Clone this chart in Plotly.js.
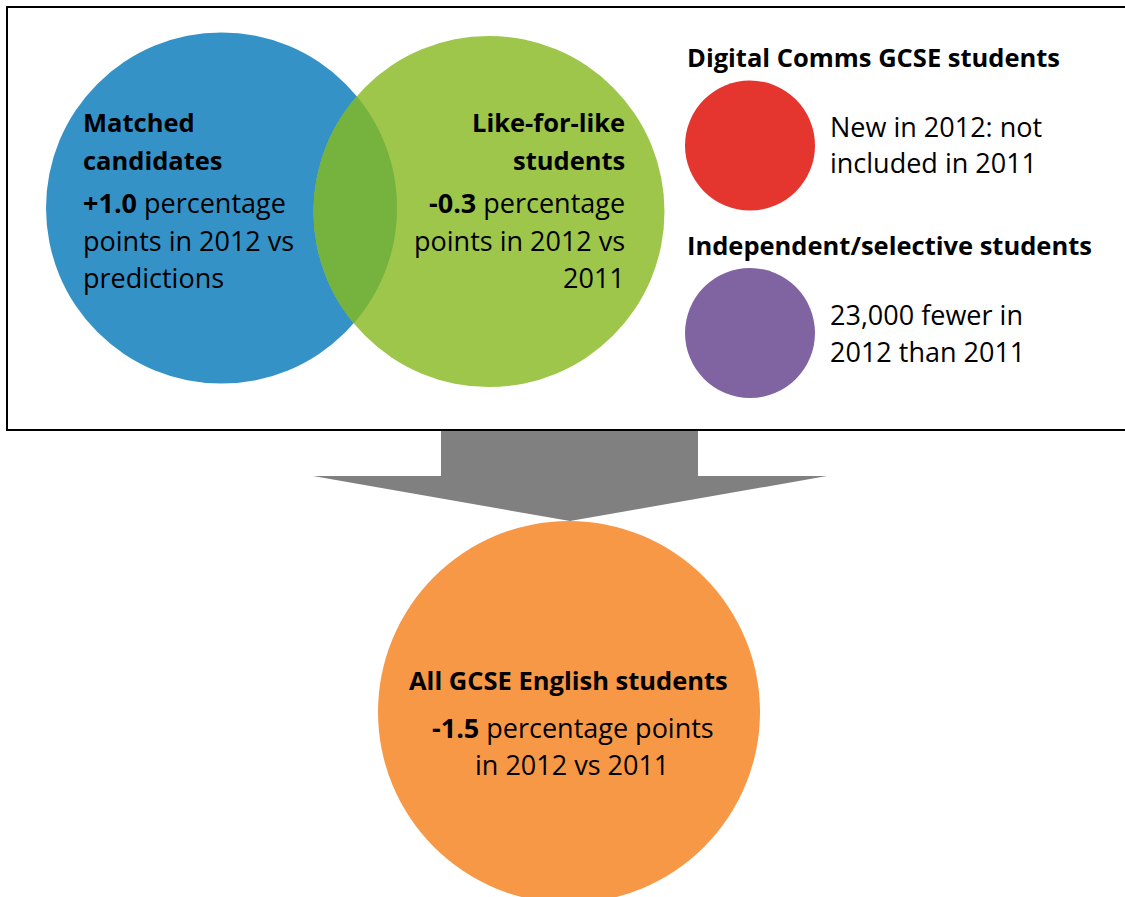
<!DOCTYPE html>
<html>
<head>
<meta charset="utf-8">
<script src="https://cdn.plot.ly/plotly-3.0.1.min.js"></script>
<style>
html,body{margin:0;padding:0;background:#fff;}
#chart{width:1125px;height:897px;}
</style>
</head>
<body>
<div id="chart"></div>
<script>
// ---- content (values and labels) ----
const groupNames = ['Matched candidates', 'Like-for-like students', 'Digital Comms GCSE students', 'Independent/selective students', 'All GCSE English students'];
const changeValues = ['+1.0', '-0.3', null, null, '-1.5'];
const matchedLines = ['Matched', 'candidates'];
const matchedBody = [' percentage', 'points in 2012 vs', 'predictions'];
const likeLines = ['Like-for-like', 'students'];
const likeBody = [' percentage', 'points in 2012 vs', '2011'];
const digitalBody = ['New in 2012: not', 'included in 2011'];
const independentBody = ['23,000 fewer in', '2012 than 2011'];
const allBody = [' percentage points', 'in 2012 vs 2011'];

// ---- geometry / style (layout only) ----
const W = 1125, H = 897;
const FONT = 'Open Sans, sans-serif';
const FS_TITLE = 25.5;
const FS_BODY = 27;
const C = {
  blue:   {cx: 221.5, cy: 208,   r: 175.5, color: '#3592C7'},
  green:  {cx: 489,   cy: 211.5, r: 175.5, color: '#9DC64A'},
  red:    {cx: 750,   cy: 145.5, r: 65,    color: '#E5352F'},
  purple: {cx: 750,   cy: 333,   r: 65,    color: '#8064A2'},
  orange: {cx: 569,   cy: 712,   r: 191,   color: '#F79847'}
};
const overlapColor = '#76B23E';

function circleShape(c) {
  return {type: 'circle', xref: 'x', yref: 'y', x0: c.cx - c.r, x1: c.cx + c.r,
          y0: c.cy - c.r, y1: c.cy + c.r, fillcolor: c.color, line: {width: 0}, layer: 'below'};
}

// lens (overlap) path computed from the two circles
function lensPath(a, b) {
  const N = 1440;
  const arcA = [], arcB = [];
  for (let i = 0; i <= N; i++) {
    const t = -Math.PI + 2 * Math.PI * i / N;
    const x = a.cx + a.r * Math.cos(t), y = a.cy + a.r * Math.sin(t);
    if (Math.hypot(x - b.cx, y - b.cy) <= b.r) arcA.push([x, y]);
  }
  for (let i = 0; i <= N; i++) {
    const t = 2 * Math.PI * i / N;
    const x = b.cx + b.r * Math.cos(t), y = b.cy + b.r * Math.sin(t);
    if (Math.hypot(x - a.cx, y - a.cy) <= a.r) arcB.push([x, y]);
  }
  const pts = arcA.concat(arcB);
  return 'M' + pts.map(p => p[0].toFixed(2) + ',' + p[1].toFixed(2)).join('L') + 'Z';
}

const shapes = [
  circleShape(C.blue),
  circleShape(C.green),
  {type: 'path', xref: 'x', yref: 'y', path: lensPath(C.blue, C.green), fillcolor: overlapColor, line: {width: 0}, layer: 'below'},
  circleShape(C.red),
  circleShape(C.purple),
  circleShape(C.orange),
  // grey block arrow
  {type: 'path', xref: 'x', yref: 'y',
   path: 'M441,430L698,430L698,476L827,476L570,521L313,476L441,476Z',
   fillcolor: '#808080', line: {width: 0}, layer: 'above'},
  // frame
  {type: 'rect', xref: 'x', yref: 'y', x0: 7, x1: 1140, y0: 7, y1: 430,
   line: {color: '#000', width: 2}, fillcolor: 'rgba(0,0,0,0)', layer: 'above'}
];

function line(text, x, baseline, align, fs) {
  return {xref: 'x', yref: 'y', x: x, y: baseline - 0.39 * fs, text: text, showarrow: false,
          borderpad: 0, borderwidth: 0,
          xanchor: align, yanchor: 'middle', font: {family: FONT, size: fs, color: '#000'}};
}
const bold = s => '<b>' + s + '</b>';
const T = FS_TITLE, B = FS_BODY;

const annotations = [
  // Matched candidates
  line(bold(matchedLines[0]), 83, 132, 'left', T),
  line(bold(matchedLines[1]), 83, 170, 'left', T),
  line(bold(changeValues[0]) + matchedBody[0], 83, 213, 'left', B),
  line(matchedBody[1], 83, 251, 'left', B),
  line(matchedBody[2], 83, 288, 'left', B),
  // Like-for-like
  line(bold(likeLines[0]), 625, 132, 'right', T),
  line(bold(likeLines[1]), 625, 170, 'right', T),
  line(bold(changeValues[1]) + likeBody[0], 625, 213, 'right', B),
  line(likeBody[1], 625, 251, 'right', B),
  line(likeBody[2], 625, 288, 'right', B),
  // Digital comms
  line(bold(groupNames[2]), 687, 67, 'left', T),
  line(digitalBody[0], 830, 137, 'left', B),
  line(digitalBody[1], 830, 173, 'left', B),
  // Independent
  line(bold(groupNames[3]), 687, 255, 'left', T),
  line(independentBody[0], 830, 325, 'left', B),
  line(independentBody[1], 830, 362, 'left', B),
  // All GCSE
  line(bold(groupNames[4]), 568, 690, 'center', T),
  line(bold(changeValues[4]) + allBody[0], 573, 738, 'center', B),
  line(allBody[1], 572, 775, 'center', B)
];

const layout = {
  width: W, height: H,
  margin: {l: 0, r: 0, t: 0, b: 0, pad: 0},
  paper_bgcolor: '#fff', plot_bgcolor: '#fff',
  showlegend: false,
  xaxis: {range: [0, W], visible: false, fixedrange: true},
  yaxis: {range: [H, 0], visible: false, fixedrange: true},
  shapes: shapes,
  annotations: annotations
};

Plotly.newPlot('chart', [{x: [], y: [], type: 'scatter', mode: 'markers', hoverinfo: 'skip'}], layout,
  {displayModeBar: false, staticPlot: true});
</script>
</body>
</html>
